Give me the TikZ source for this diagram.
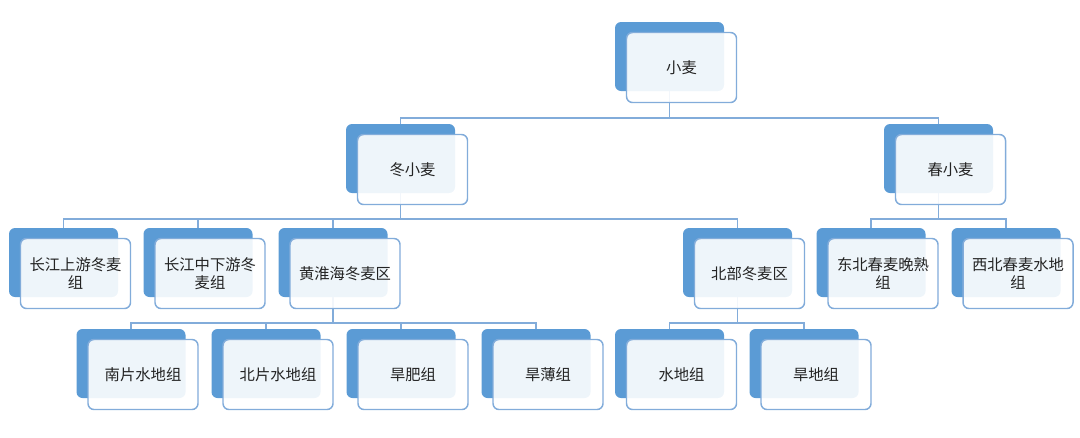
\documentclass[tikz,border=0pt]{standalone}
\usepackage{fontspec}
\newfontfamily\cjk{Noto Sans CJK SC}
\usetikzlibrary{calc, positioning, backgrounds}
\definecolor{boxblue}{RGB}{91, 155, 213}
\definecolor{edgeblue}{RGB}{130, 172, 218}
\definecolor{inktext}{RGB}{35, 35, 35}

\tikzset{
  backbox/.style={fill=boxblue, rounded corners=4.5pt, inner sep=0pt,
    minimum width=81.75pt, minimum height=51.75pt},
  frontbox/.style={draw=edgeblue, fill=white, fill opacity=0.9, text opacity=1,
    line width=1.1pt, rounded corners=4.5pt, inner sep=0pt,
    minimum width=82.5pt, minimum height=52.5pt, text width=74pt, align=center,
    font=\cjk\fontsize{11.5}{13.5}\selectfont, text=inktext},
  link/.style={draw=edgeblue, line width=0.8pt}
}

\begin{document}
\begin{tikzpicture}[x=0.75pt, y=-0.75pt]
  \useasboundingbox (0,0) rectangle (1080,437);
  % boxes: back block + front card
  \foreach \n/\x/\y/\t in {wheat/669.5/56.5/小麦,
      winter/400.5/158.5/冬小麦, spring/938.5/158.5/春小麦,
      cjup/63.5/262.5/{长江上游冬麦\\组}, cjmid/198/262.5/{长江中下游冬\\麦组},
      hhh/333/262.5/黄淮海冬麦区, north/737.5/262.5/北部冬麦区,
      ne/871/262.5/{东北春麦晚熟\\组}, nw/1006/262.5/{西北春麦水地\\组},
      hsouth/131/363.5/南片水地组, hnorth/266/363.5/北片水地组,
      hfat/401/363.5/旱肥组, hpoor/536/363.5/旱薄组,
      nwater/669.5/363.5/水地组, ndry/804/363.5/旱地组} {
    \node[backbox] (\n) at (\x,\y) {};
    \node[frontbox] (\n-f) at ($(\n)+(12,11)$) {\t};
  }
  \coordinate (bus1) at (0,118);
  \coordinate (bus2) at (0,219);
  \coordinate (bus3) at (0,323);
  % connectors
  \begin{scope}[on background layer]
    \foreach \c in {winter, spring}
      \draw[link] (wheat) -- (wheat |- bus1) -| (\c);
    \foreach \c in {cjup, cjmid, hhh, north}
      \draw[link] (winter) -- (winter |- bus2) -| (\c);
    \foreach \c in {ne, nw}
      \draw[link] (spring) -- (spring |- bus2) -| (\c);
    \foreach \c in {hsouth, hnorth, hfat, hpoor}
      \draw[link] (hhh) -- (hhh |- bus3) -| (\c);
    \foreach \c in {nwater, ndry}
      \draw[link] (north) -- (north |- bus3) -| (\c);
  \end{scope}
\end{tikzpicture}
\end{document}
